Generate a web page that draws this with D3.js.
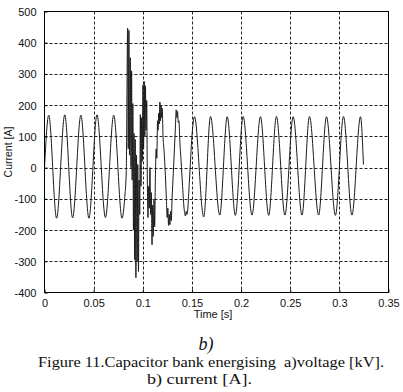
<!DOCTYPE html>
<html><head><meta charset="utf-8">
<script src="https://cdn.jsdelivr.net/npm/d3@7"></script>
<style>html,body{margin:0;padding:0;background:#fff}svg{display:block}</style>
</head><body><svg id="c" width="403" height="392"></svg>
<script>
// Tick values
const xTicks = [0, 0.05, 0.1, 0.15, 0.2, 0.25, 0.3, 0.35];
const yTicks = [500, 400, 300, 200, 100, 0, -100, -200, -300, -400];
// Waveform vertices: time in ms, current in A
const timeMs = [
  0, 4.3, 12.3, 20.6, 28.6, 37.0, 45.2, 53.4, 62.0, 70.4, 78.9,
  81.5, 83.2, 84.6, 85.2, 85.9, 86.5, 87.3, 88.0, 88.6, 89.2, 89.9, 90.5, 91.1, 91.7, 92.3,
  93.0, 93.6, 94.3, 94.9, 95.6, 96.2, 96.9, 97.5, 98.2, 98.8, 99.5, 100.2, 100.8, 101.5,
  102.1, 102.7, 103.3, 104.0, 104.6, 105.3, 105.9, 106.6, 107.3, 108.0, 108.7, 109.4,
  110.0, 110.7, 111.4, 112.1, 112.8, 113.6, 114.3, 115.0, 115.6, 116.2, 116.8, 117.4,
  118.0, 118.6, 119.2, 119.8, 120.6, 121.5, 122.3, 123.2, 124.0, 124.8, 125.5, 126.2,
  126.9, 127.6, 128.3, 129.0, 129.8, 131.0, 132.2, 133.2, 134.0, 134.7, 135.4, 136.1,
  136.8, 137.6, 139.0, 140.5, 142.0, 143.4, 144.2, 145.0, 147.5, 150.0,
  152.6, 162.0, 168.9, 178.3, 185.9, 194.2, 202.1, 211.1, 219.7, 228.1, 236.0, 244.6,
  253.0, 262.0, 269.6, 278.9, 286.9, 296.0, 304.2, 312.8, 321.5, 324.5
];
const currentA = [
  0, 168, -162, 169, -161, 168, -162, 169, -160, 168, -162,
  -100, -10, 447, 60, 440, 40, 352, 0, 310, -40, 205, -200, 110, -295, 90,
  -353, 40, -300, 10, -333, -40, -150, 170, -60, 160, 20, 265, 60, 276,
  100, 262, 120, 215, -30, -160, -60, -130, 0, -150, -80, -247,
  -120, -220, -100, -190, -40, 60, 30, 150, 120, 175, 140, 210,
  150, 200, 160, 190, 100, 60, 20, -40, -100, -160, -130, -185,
  -150, -183, -140, -170, -100, -20, 60, 130, 185, 160, 180, 145,
  150, 90, 20, -60, -130, -155, -140, -150, -40, 100,
  163, -158, 164, -152, 163, -153, 164, -152, 163, -153, 164, -152,
  163, -152, 164, -152, 163, -153, 164, -152, 163, 10
];

const svg = d3.select('#c');
const L = 44.5, R = 388.5, T = 11.5, B = 292.5;
const x = d3.scaleLinear().domain([0, 0.35]).range([L, R]);
const y = d3.scaleLinear().domain([-400, 500]).range([B, T]);

// grid
const g = svg.append('g');
g.selectAll('line.gx').data(xTicks.slice(1, -1)).join('line')
  .attr('x1', d => Math.round(x(d)) + 0.5).attr('x2', d => Math.round(x(d)) + 0.5)
  .attr('y1', T).attr('y2', B)
  .attr('stroke', '#222').attr('stroke-width', 1).attr('stroke-dasharray', '3,2');
g.selectAll('line.gy').data(yTicks.slice(1, -1)).join('line')
  .attr('y1', d => Math.round(y(d)) + 0.5).attr('y2', d => Math.round(y(d)) + 0.5)
  .attr('x1', L).attr('x2', R)
  .attr('stroke', '#222').attr('stroke-width', 1).attr('stroke-dasharray', '3,2');

// waveform
const data = timeMs.map((t, i) => [t / 1000, currentA[i]]);
svg.append('path').datum(data)
  .attr('d', d3.line().x(d => x(d[0])).y(d => y(d[1])).curve(d3.curveMonotoneX))
  .attr('fill', 'none').attr('stroke', '#1a1a1a').attr('stroke-width', 1);

// box
svg.append('rect').attr('x', L).attr('y', T).attr('width', R - L).attr('height', B - T)
  .attr('fill', 'none').attr('stroke', '#000').attr('stroke-width', 1);

// axes
const ax = svg.append('g').attr('transform', `translate(0,${B})`)
  .call(d3.axisBottom(x).tickValues(xTicks).tickFormat(d => String(d)).tickSize(-3).tickPadding(6));
const ay = svg.append('g').attr('transform', `translate(${L},0)`)
  .call(d3.axisLeft(y).tickValues(yTicks).tickFormat(d => String(d)).tickSize(-3).tickPadding(8));
[ax, ay].forEach(a => {
  a.select('.domain').remove();
  a.selectAll('.tick line').attr('stroke', '#000');
  a.selectAll('text').attr('font-family', 'Liberation Sans, Arial, sans-serif')
    .attr('font-size', 11).attr('fill', '#111');
});
ax.selectAll('text').attr('dy', '0').attr('y', 14);
ay.selectAll('text').attr('dy', '0.36em');

// axis titles
svg.append('text').attr('x', 213).attr('y', 318).attr('text-anchor', 'middle')
  .attr('font-family', 'Liberation Sans, Arial, sans-serif').attr('font-size', 11).attr('fill', '#111')
  .text('Time [s]');
svg.append('text').attr('transform', 'translate(12,152) rotate(-90)').attr('text-anchor', 'middle')
  .attr('font-family', 'Liberation Sans, Arial, sans-serif').attr('font-size', 10.5).attr('fill', '#111')
  .text('Current [A]');

// caption
svg.append('text').attr('x', 206).attr('y', 350).attr('text-anchor', 'middle')
  .attr('font-family', 'Liberation Serif, Times New Roman, serif').attr('font-style', 'italic')
  .attr('font-size', 18).attr('fill', '#111').text('b)');
svg.append('text').attr('x', 38).attr('y', 367)
  .attr('font-family', 'Liberation Serif, Times New Roman, serif')
  .attr('font-size', 15).attr('fill', '#111').attr('xml:space', 'preserve')
  .style('white-space', 'pre')
  .attr('textLength', 346).attr('lengthAdjust', 'spacingAndGlyphs')
  .text('Figure 11.Capacitor bank energising  a)voltage [kV].');
svg.append('text').attr('x', 147).attr('y', 384)
  .attr('font-family', 'Liberation Serif, Times New Roman, serif')
  .attr('font-size', 15).attr('fill', '#111')
  .attr('textLength', 105).attr('lengthAdjust', 'spacingAndGlyphs')
  .text('b) current [A].');
</script></body></html>
